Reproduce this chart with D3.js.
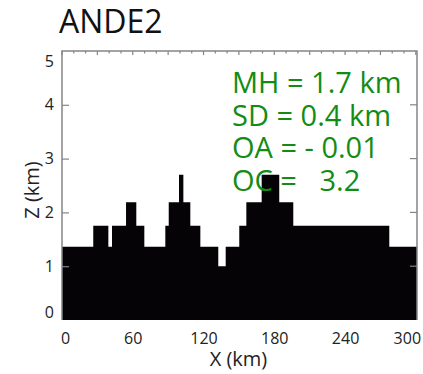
<!DOCTYPE html>
<meta charset="utf-8">
<script src="https://d3js.org/d3.v7.min.js"></script>
<style>
  body { margin: 0; background: #fff; }
  text { font-family: "Open Sans", sans-serif; }
</style>
<div id="my_dataviz"></div>
<script>

// step profile: segment edges (km) and heights (km)
const edges = [0, 26.5, 39.3, 42.4, 54.3, 63.0, 69.8, 87.6, 90.5, 99.2, 102.9, 108.8,
               117.3, 132.5, 138.8, 150.3, 156.3, 169.3, 184.2, 196.1, 277.5, 301];
const heights = [1.36, 1.75, 1.36, 1.75, 2.19, 1.75, 1.36, 1.75, 2.19, 2.70, 2.19,
                 1.75, 1.36, 1.00, 1.36, 1.75, 2.19, 2.70, 2.19, 1.75, 1.36];
const xTicks = [0, 60, 120, 180, 240, 300];
const yTicks = [0, 1, 2, 3, 4, 5];
const stats = ["MH = 1.7 km", "SD = 0.4 km", "OA = - 0.01", "OC =   3.2"];

const margin = {top: 51, right: 6, bottom: 54, left: 62},
    width = 423 - margin.left - margin.right,
    height = 374 - margin.top - margin.bottom;

const svg = d3.select("#my_dataviz")
  .append("svg")
    .attr("width", 423)
    .attr("height", 374)
  .append("g")
    .attr("transform", `translate(${margin.left}, ${margin.top})`);

const x = d3.scaleLinear().domain([0, 301]).range([0, width]);
const y = d3.scaleLinear().domain([0, 5]).range([height, 0]);

// terrain
const pts = heights.map((h, i) => [edges[i], h]);
pts.push([edges[edges.length - 1], heights[heights.length - 1]]);
svg.append("path")
  .datum(pts)
  .attr("fill", "#050306")
  .attr("d", d3.area()
    .curve(d3.curveStepAfter)
    .x(d => x(d[0]))
    .y0(y(0))
    .y1(d => y(d[1])));

// frame
const frameColor = "#858585";
svg.append("path")
  .attr("d", `M0,${height}V0H${width}V${height}`)
  .attr("fill", "none")
  .attr("stroke", frameColor)
  .attr("stroke-width", 1.5);

// top minor ticks
svg.append("g")
  .selectAll("line")
  .data(d3.range(0, 301, 10))
  .join("line")
    .attr("x1", d => x(d)).attr("x2", d => x(d))
    .attr("y1", 0).attr("y2", d => d % 30 === 0 ? 4 : 2.5)
    .attr("stroke", frameColor)
    .attr("stroke-width", 1.2);

// right ticks
svg.append("g")
  .selectAll("line")
  .data(yTicks.slice(1, -1))
  .join("line")
    .attr("x1", width).attr("x2", width - 7)
    .attr("y1", d => y(d)).attr("y2", d => y(d))
    .attr("stroke", frameColor)
    .attr("stroke-width", 1.2);

// left axis
const yAxis = svg.append("g")
  .call(d3.axisLeft(y).tickValues(yTicks).tickSize(-7).tickPadding(8).tickFormat(d3.format("d")));
yAxis.select(".domain").remove();
yAxis.selectAll(".tick line").attr("stroke", frameColor).attr("stroke-width", 1.2)
  .filter(d => d === 0 || d === 5).remove();
yAxis.selectAll("text")
  .style("font-size", "16px")
  .attr("fill", "#222")
  .attr("dy", d => d === 5 ? "0.95em" : d === 0 ? "-0.15em" : "0.32em");

// bottom axis
const xAxis = svg.append("g")
  .attr("transform", `translate(0, ${height})`)
  .call(d3.axisBottom(x).tickValues(xTicks).tickSize(0).tickPadding(13));
xAxis.select(".domain").remove();
xAxis.selectAll("text")
  .style("font-size", "16px")
  .attr("fill", "#222")
  .attr("dx", d => d === 0 ? 3 : d === 300 ? -9 : 0);

// axis titles
svg.append("text")
  .attr("x", width / 2 - 1)
  .attr("y", height + 46)
  .attr("text-anchor", "middle")
  .style("font-size", "20px")
  .attr("fill", "#222")
  .text("X (km)");

svg.append("text")
  .attr("transform", `translate(${-23}, ${139}) rotate(-90)`)
  .attr("text-anchor", "middle")
  .style("font-size", "20px")
  .attr("fill", "#222")
  .text("Z (km)");

// title
svg.append("text")
  .attr("x", -3)
  .attr("y", -18)
  .style("font-size", "32px")
  .attr("fill", "#111")
  .text("ANDE2");

// stats
svg.append("g")
  .selectAll("text")
  .data(stats)
  .join("text")
    .attr("x", 170)
    .attr("y", (d, i) => 42 + i * 32.7)
    .style("font-size", "29px")
    .style("white-space", "pre")
    .attr("fill", "#138c13")
    .text(d => d);

</script>
